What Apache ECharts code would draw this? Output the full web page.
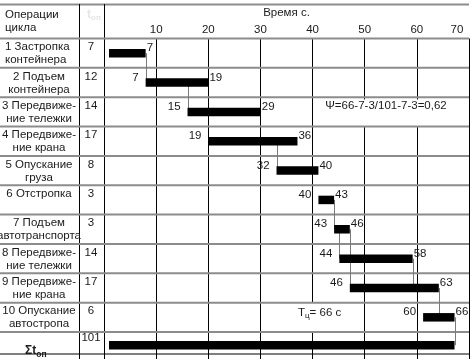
<!DOCTYPE html>
<html>
<head>
<meta charset="utf-8">
<script src="https://cdn.jsdelivr.net/npm/echarts@6/dist/echarts.min.js"></script>
<style>
html,body{margin:0;padding:0;background:#fff;}
#c{width:471px;height:359px;}
</style>
</head>
<body>
<div id="c"></div>
<script>
// ---------- data ----------
const operations = [
  '1 Застропка\nконтейнера',
  '2 Подъем\nконтейнера',
  '3 Передвиже-\nние тележки',
  '4 Передвиже-\nние крана',
  '5 Опускание\nгруза',
  '6 Отстропка',
  '7 Подъем\nавтотранспорта',
  '8 Передвиже-\nние тележки',
  '9 Передвиже-\nние крана',
  '10 Опускание\nавтостропа'
];
const durations  = [7, 12, 14, 17, 8, 3, 3, 14, 17, 6];
const startTimes = [0, 7, 15, 19, 32, 40, 43, 44, 46, 60];
const endTimes   = [7, 19, 29, 36, 40, 43, 46, 58, 63, 66];
const totalDuration = 101;
const cycleTime = 66;
const timeTicks = [10, 20, 30, 40, 50, 60, 70];
// [time, fromRow, toRow]
const links = [[7,0,1],[15,1,2],[32,3,4],[43,5,6],[44,6,7],[46,6,8],[58,7,8],[63,8,9],[66,9,10]];
const psiText = 'Ψ=66-7-3/101-7-3=0,62';

// ---------- layout ----------
const FONT = 'Liberation Sans';
const FS = 11.5;
const TXT = '#1a1a1a';
const GRID_TOP = 38.5;
const ROW_PX = 29.35;
const yMax = (359 - GRID_TOP) / ROW_PX;
const SUM_ROW = operations.length;
const SUM_CENTER = 10.45;
const SUM_BOTTOM = 10.75;
const rowCenter = i => i < SUM_ROW ? i + 0.5 : SUM_CENTER;

const chart = echarts.init(document.getElementById('c'));

const barData = startTimes.map((s, i) => [rowCenter(i), s, endTimes[i], i])
  .concat([[SUM_CENTER, 0, cycleTime, SUM_ROW]]);
const rowLineData = operations.map((_, i) => [0, i, 0]).concat([[0, SUM_ROW, 0], [0, SUM_BOTTOM, 1]]);
const tableData = operations.map((_, i) => [0, i]);

function txt(text, x, y, align, extra) {
  return Object.assign({
    type: 'text', x: x, y: y,
    style: { text: text, fill: TXT, fontFamily: FONT, fontSize: FS, align: align, verticalAlign: 'middle' }
  }, extra || {});
}

const option = {
  animation: false,
  grid: [
    { left: 104, right: 2, top: GRID_TOP, bottom: 0 },
    { left: 109, width: 356, top: GRID_TOP, bottom: 0 }
  ],
  xAxis: [
    {
      gridIndex: 0, type: 'value', position: 'top', min: 0, max: 70, interval: 10,
      name: 'Время с.', nameLocation: 'middle', nameGap: 17,
      nameTextStyle: { fontFamily: FONT, fontSize: FS, color: TXT },
      axisLine: { show: false }, axisTick: { show: false },
      axisLabel: {
        margin: 3, fontFamily: FONT, fontSize: FS, color: TXT,
        formatter: v => timeTicks.indexOf(v) < 0 ? '' : (v === 70 ? '{r|' + v + '}' : String(v)),
        rich: { r: { fontFamily: FONT, fontSize: FS, color: TXT, padding: [0, 24, 0, 0] } }
      },
      splitLine: { show: true, lineStyle: { color: '#000', width: 1 } }
    },
    { gridIndex: 1, type: 'value', min: 0, max: 68, show: false }
  ],
  yAxis: [
    { gridIndex: 0, type: 'value', inverse: true, min: 0, max: yMax, show: false },
    { gridIndex: 1, type: 'value', inverse: true, min: 0, max: yMax, show: false }
  ],
  series: [
    { // table rows: horizontal separators
      type: 'custom', xAxisIndex: 0, yAxisIndex: 0, z: 3, silent: true,
      encode: { x: 0, y: 1 },
      data: rowLineData,
      renderItem: function (params, api) {
        const y = api.coord([0, api.value(1)])[1];
        const cs = params.coordSys;
        const black = api.value(2) === 1;
        return { type: 'line', shape: { x1: 0, y1: y, x2: cs.x + cs.width, y2: y },
          style: { stroke: black ? '#000' : '#8c8c8c', lineWidth: black ? 1 : 2 } };
      }
    },
    { // table texts
      type: 'custom', xAxisIndex: 0, yAxisIndex: 0, z: 5, silent: true,
      encode: { x: 0, y: 1 },
      data: tableData,
      renderItem: function (params, api) {
        const i = api.value(1);
        const cs = params.coordSys;
        const top = api.coord([0, i])[1];
        return { type: 'group', children: [
          { type: 'text', x: i === 0 ? 5 : cs.x - 65, y: top + 2,
            style: { text: operations[i], fill: TXT, fontFamily: FONT, fontSize: FS,
              align: i === 0 ? 'left' : 'center', verticalAlign: 'top', lineHeight: 13 } },
          txt(String(durations[i]), cs.x - 13, top + 8.5, 'center')
        ] };
      }
    },
    { // dependency connectors
      type: 'custom', xAxisIndex: 1, yAxisIndex: 1, z: 3, silent: true,
      encode: { x: 0, y: 1 },
      data: links,
      renderItem: function (params, api) {
        const t = api.value(0);
        const p0 = api.coord([t, rowCenter(api.value(1))]);
        const p1 = api.coord([t, rowCenter(api.value(2))]);
        return { type: 'line', shape: { x1: Math.round(p0[0]) + 0.5, y1: p0[1], x2: Math.round(p1[0]) + 0.5, y2: p1[1] },
          style: { stroke: '#7a7a7a', lineWidth: 1 } };
      }
    },
    { // bars + labels
      type: 'custom', xAxisIndex: 1, yAxisIndex: 1, z: 4, silent: true,
      encode: { x: [1, 2], y: 0 },
      data: barData,
      renderItem: function (params, api) {
        const yc = api.value(0), s = api.value(1), e = api.value(2), idx = api.value(3);
        const p0 = api.coord([s, yc]), p1 = api.coord([e, yc]);
        const h = 8.5;
        const kids = [{ type: 'rect', shape: { x: p0[0], y: p0[1] - h / 2, width: p1[0] - p0[0], height: h },
          style: { fill: '#000' } }];
        if (idx < SUM_ROW) {
          if (s > 0) kids.push(txt(String(s), p0[0] - 7, p0[1] - 5, 'right'));
          kids.push(txt(String(e), p1[0] + 1, p1[1] - 5, 'left'));
        }
        return { type: 'group', children: kids };
      }
    }
  ],
  graphic: [
    { type: 'line', z: 3, shape: { x1: 0, y1: 4.5, x2: 469, y2: 4.5 }, style: { stroke: '#8c8c8c', lineWidth: 2 } },
    { type: 'line', z: 3, shape: { x1: 79.5, y1: 4, x2: 79.5, y2: 359 }, style: { stroke: '#000', lineWidth: 1 } },
    { type: 'line', z: 3, shape: { x1: 104.5, y1: 4, x2: 104.5, y2: 359 }, style: { stroke: '#000', lineWidth: 1 } },
    { type: 'text', z: 5, x: 5, y: 8, style: { text: 'Операции\nцикла', fill: TXT, fontFamily: FONT, fontSize: FS, lineHeight: 13, verticalAlign: 'top' } },
    { type: 'text', z: 5, x: 87, y: 15, style: { text: '{t|t}{s|оп}', verticalAlign: 'middle',
      rich: { t: { fill: '#e6e6e6', fontFamily: FONT, fontSize: 12, fontWeight: 'bold' },
              s: { fill: '#e6e6e6', fontFamily: FONT, fontSize: 8, fontWeight: 'bold', padding: [6, 0, 0, 0] } } } },
    { type: 'text', z: 1, x: 386, y: 99.5, style: { text: psiText, fill: TXT, fontFamily: FONT, fontSize: FS, align: 'center', verticalAlign: 'top',
      lineHeight: 12, backgroundColor: '#fff', padding: [0, 4, 15, 4] } },
    { type: 'text', z: 1, x: 296, y: 303, style: { text: '{a|Т}{s|ц}{a|= ' + cycleTime + ' с}', verticalAlign: 'top',
      backgroundColor: '#fff', padding: [4, 3, 13, 2],
      rich: { a: { fill: TXT, fontFamily: FONT, fontSize: FS, lineHeight: 12 },
              s: { fill: TXT, fontFamily: FONT, fontSize: 8, lineHeight: 12, padding: [5, 0, 0, 0] } } } },
    { type: 'text', z: 5, x: 91, y: 338, style: { text: String(totalDuration), fill: TXT, fontFamily: FONT, fontSize: FS, align: 'center', verticalAlign: 'middle' } },
    { type: 'text', z: 5, x: 25, y: 351, style: { text: '{a|Σt}{s|оп}', verticalAlign: 'middle',
      rich: { a: { fill: TXT, fontFamily: FONT, fontSize: 12, fontWeight: 'bold' },
              s: { fill: TXT, fontFamily: FONT, fontSize: 8.5, fontWeight: 'bold', padding: [7, 0, 0, 0] } } } }
  ]
};
chart.setOption(option);
</script>
</body>
</html>
